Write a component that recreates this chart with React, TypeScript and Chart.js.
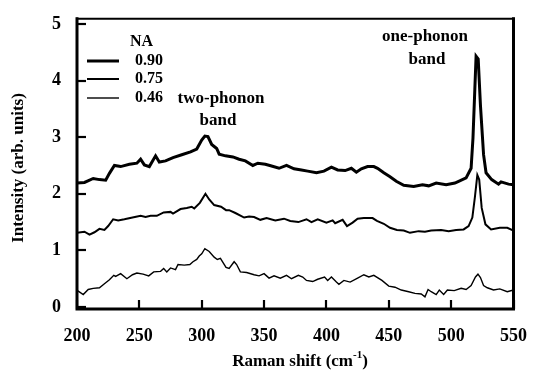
import { useEffect, useRef } from "react";
import { Chart, registerables } from "chart.js";

Chart.register(...registerables);

// Raman spectra [shift (cm^-1), intensity (arb. units)] for three numerical apertures
const spectrumNA090: [number, number][] = [
  [200, 2.19], [206, 2.2], [213, 2.27], [218, 2.25], [223, 2.24], [226, 2.36], [230, 2.5], [235, 2.48],
  [242, 2.52], [248, 2.54], [251, 2.61], [254, 2.51], [258, 2.48], [263, 2.67], [266, 2.56], [271, 2.58],
  [277, 2.64], [284, 2.69], [291, 2.74], [296, 2.79], [300, 2.95], [302.5, 3.02], [305, 3.01], [308, 2.87],
  [312, 2.8], [314, 2.7], [319, 2.67], [325, 2.65], [330, 2.61], [335, 2.58], [341, 2.5], [345, 2.54],
  [351, 2.52], [356, 2.49], [362, 2.45], [368, 2.5], [374, 2.44], [380, 2.42], [385, 2.4], [392, 2.37],
  [398, 2.4], [404, 2.47], [409, 2.42], [415, 2.41], [420, 2.45], [424, 2.38], [428, 2.44], [433, 2.48],
  [438, 2.48], [441, 2.45], [446, 2.37], [451, 2.3], [456, 2.22], [462, 2.15], [470, 2.13], [477, 2.16],
  [482, 2.14], [488, 2.19], [496, 2.16], [503, 2.19], [506, 2.22], [512, 2.28], [516, 2.45], [517.5, 2.98],
  [519, 3.85], [520, 4.43], [521.7, 4.38], [523.5, 3.56], [526, 2.69], [528, 2.37], [532.5, 2.25], [538, 2.17],
  [540, 2.21], [546, 2.17], [550, 2.16],
];

const spectrumNA075: [number, number][] = [
  [200, 1.31], [206, 1.33], [210, 1.28], [214, 1.32], [218, 1.38], [222, 1.36], [225, 1.43], [229, 1.55],
  [233, 1.53], [238, 1.55], [244.5, 1.58], [251, 1.61], [255, 1.59], [259, 1.61], [264, 1.61], [269.5, 1.67],
  [275, 1.68], [277, 1.65], [283, 1.73], [288, 1.75], [292, 1.77], [294, 1.74], [298.5, 1.84], [303, 2.0],
  [306, 1.9], [310, 1.8], [315.5, 1.77], [319.5, 1.71], [322, 1.71], [327, 1.66], [334, 1.58], [338, 1.6],
  [342, 1.59], [347, 1.54], [352, 1.57], [359, 1.53], [366, 1.56], [371, 1.52], [377.5, 1.5], [384, 1.55],
  [388, 1.5], [393, 1.55], [400, 1.49], [405, 1.53], [407, 1.48], [413, 1.54], [416.5, 1.43], [421, 1.49],
  [425, 1.56], [430, 1.57], [437, 1.57], [440.5, 1.52], [446, 1.47], [451, 1.4], [456.5, 1.36], [462, 1.35],
  [467, 1.31], [474, 1.34], [479, 1.33], [484, 1.35], [492, 1.36], [498, 1.34], [504, 1.36], [510, 1.37],
  [514, 1.43], [517, 1.58], [519, 1.93], [521, 2.33], [522.5, 2.25], [524.5, 1.75], [527.5, 1.46], [532, 1.37],
  [539, 1.4], [545, 1.4], [550, 1.35],
];

const spectrumNA046: [number, number][] = [
  [200, 0.3], [201, 0.28], [205, 0.22], [209, 0.31], [213, 0.33], [218, 0.34], [222, 0.41], [226, 0.48],
  [229.5, 0.56], [231, 0.54], [235, 0.59], [240, 0.5], [244.5, 0.57], [248, 0.6], [253, 0.58], [257.5, 0.55],
  [261.5, 0.62], [267, 0.63], [269.5, 0.68], [272, 0.62], [275, 0.69], [279, 0.66], [281, 0.75], [286, 0.74],
  [290.5, 0.75], [293, 0.8], [296, 0.84], [298, 0.9], [300, 0.94], [302.5, 1.03], [306, 0.98], [310, 0.88],
  [312.5, 0.84], [315, 0.86], [319.5, 0.7], [322, 0.68], [326, 0.8], [328, 0.75], [331, 0.62], [336, 0.61],
  [342, 0.57], [346, 0.55], [350, 0.59], [354, 0.51], [358, 0.55], [363, 0.51], [368, 0.56], [372, 0.5],
  [377.5, 0.56], [381, 0.53], [384, 0.47], [389, 0.45], [393, 0.49], [398.5, 0.53], [401, 0.47], [404, 0.53],
  [408, 0.44], [410, 0.4], [414, 0.47], [419, 0.44], [425, 0.51], [430, 0.57], [434, 0.53], [438, 0.56],
  [444.5, 0.47], [450, 0.37], [455, 0.35], [460, 0.3], [466, 0.27], [471, 0.24], [476, 0.23], [479, 0.18],
  [481.5, 0.31], [484, 0.27], [488, 0.22], [490.5, 0.3], [494, 0.22], [497, 0.3], [502.5, 0.29], [508, 0.33],
  [512, 0.31], [516, 0.38], [519.5, 0.53], [521.5, 0.58], [523.5, 0.52], [526, 0.38], [529, 0.34], [534, 0.3],
  [539, 0.32], [545, 0.27], [550, 0.3],
];

const apertureLabels = ["0.90", "0.75", "0.46"];
const lineWidths = [3, 2, 1.4];
const xTickValues = [200, 250, 300, 350, 400, 450, 500, 550];
const yTickValues = [0, 1, 2, 3, 4, 5];

const SERIF = "'Liberation Serif', 'Times New Roman', serif";

const toPoints = (rows: [number, number][]) => rows.map(([x, y]) => ({ x, y }));

const framePlugin = {
  id: "frameAndNotes",
  afterDraw(chart: any) {
    const { ctx, chartArea: a, scales } = chart;
    const xs = scales.x;
    const ys = scales.y;
    ctx.save();
    ctx.strokeStyle = "#000";
    ctx.fillStyle = "#000";
    ctx.lineCap = "square";

    // box around the plot
    ctx.lineWidth = 3;
    ctx.beginPath();
    ctx.moveTo(a.left, a.top);
    ctx.lineTo(a.left, a.bottom);
    ctx.lineTo(a.right, a.bottom);
    ctx.lineTo(a.right, a.top);
    ctx.stroke();
    ctx.lineWidth = 2;
    ctx.beginPath();
    ctx.moveTo(a.left, a.top);
    ctx.lineTo(a.right, a.top);
    ctx.stroke();

    // inward tick marks
    ctx.lineWidth = 2.2;
    ctx.lineCap = "butt";
    xTickValues.forEach((v) => {
      const px = Math.round(xs.getPixelForValue(v));
      ctx.beginPath();
      ctx.moveTo(px, a.bottom);
      ctx.lineTo(px, a.bottom - 9);
      ctx.stroke();
    });
    yTickValues.forEach((v) => {
      const py = Math.round(ys.getPixelForValue(v));
      ctx.beginPath();
      ctx.moveTo(a.left, py);
      ctx.lineTo(a.left + 9, py);
      ctx.stroke();
    });

    // axis titles
    ctx.textBaseline = "alphabetic";
    ctx.font = `bold 17px ${SERIF}`;
    const main = "Raman shift (cm";
    const close = ")";
    const wMain = ctx.measureText(main).width;
    const wClose = ctx.measureText(close).width;
    ctx.font = `bold 11px ${SERIF}`;
    const sup = "-1";
    const wSup = ctx.measureText(sup).width;
    let tx = 300 - (wMain + wSup + wClose) / 2;
    const ty = 366;
    ctx.font = `bold 17px ${SERIF}`;
    ctx.textAlign = "left";
    ctx.fillText(main, tx, ty);
    tx += wMain;
    ctx.font = `bold 11px ${SERIF}`;
    ctx.fillText(sup, tx, ty - 8);
    tx += wSup;
    ctx.font = `bold 17px ${SERIF}`;
    ctx.fillText(close, tx, ty);

    ctx.save();
    ctx.translate(19, 168);
    ctx.rotate(-Math.PI / 2);
    ctx.textAlign = "center";
    ctx.textBaseline = "middle";
    ctx.font = `bold 17px ${SERIF}`;
    ctx.fillText("Intensity (arb. units)", 0, 0);
    ctx.restore();

    // legend
    ctx.textAlign = "left";
    ctx.textBaseline = "middle";
    ctx.font = `bold 16px ${SERIF}`;
    ctx.fillText("NA", 130, 42);
    const legendY = [61, 79, 98];
    apertureLabels.forEach((label, i) => {
      ctx.lineWidth = lineWidths[i];
      ctx.beginPath();
      ctx.moveTo(87, legendY[i]);
      ctx.lineTo(119, legendY[i]);
      ctx.stroke();
      ctx.fillText(label, 135, legendY[i]);
    });

    // band annotations
    ctx.textAlign = "center";
    ctx.font = `bold 17px ${SERIF}`;
    ctx.fillText("one-phonon", 425, 37);
    ctx.fillText("band", 427, 60);
    ctx.fillText("two-phonon", 221, 99);
    ctx.fillText("band", 218, 121);

    ctx.restore();
  },
};

export default function App() {
  const canvasRef = useRef<HTMLCanvasElement | null>(null);

  useEffect(() => {
    const canvas = canvasRef.current;
    if (!canvas) return;
    const series = [spectrumNA090, spectrumNA075, spectrumNA046];
    const chart = new Chart(canvas, {
      type: "line",
      data: {
        datasets: series.map((rows, i) => ({
          label: apertureLabels[i],
          data: toPoints(rows),
          borderColor: "#000",
          borderWidth: lineWidths[i],
          pointRadius: 0,
          tension: 0,
          fill: false,
        })),
      },
      options: {
        responsive: false,
        animation: false,
        devicePixelRatio: 1,
        layout: { padding: { top: 16, right: 16, left: 0, bottom: 0 } },
        plugins: {
          legend: { display: false },
          tooltip: { enabled: false },
        },
        scales: {
          x: {
            type: "linear",
            min: 200,
            max: 550,
            grid: { display: false },
            border: { display: false },
            ticks: {
              stepSize: 50,
              autoSkip: false,
              maxRotation: 0,
              padding: 9,
              color: "#000",
              font: { family: SERIF, weight: "bold", size: 18 },
            },
            afterFit: (s: any) => {
              s.height = 61;
            },
          },
          y: {
            type: "linear",
            min: -0.035,
            max: 5.09,
            grid: { display: false },
            border: { display: false },
            afterBuildTicks: (s: any) => {
              s.ticks = yTickValues.map((value) => ({ value }));
            },
            ticks: {
              padding: 8,
              color: "#000",
              font: { family: SERIF, weight: "bold", size: 18 },
            },
            afterFit: (s: any) => {
              s.width = 77;
            },
          },
        },
      },
      plugins: [framePlugin],
    } as any);
    return () => chart.destroy();
  }, []);

  return (
    <div style={{ position: "absolute", left: 0, top: 0, width: 536, height: 370, background: "#fff" }}>
      <canvas ref={canvasRef} width={536} height={370} style={{ width: 536, height: 370 }} />
    </div>
  );
}
